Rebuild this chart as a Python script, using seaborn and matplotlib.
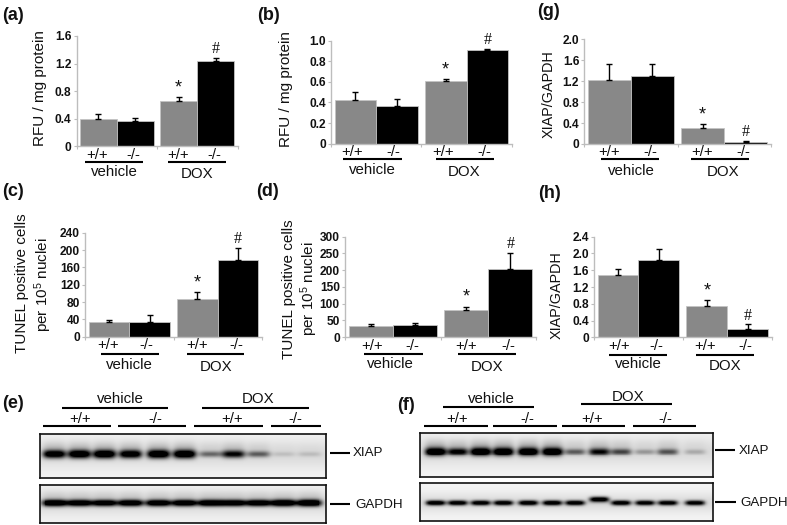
import numpy as np
import pandas as pd
import matplotlib
matplotlib.use("Agg")
import matplotlib.pyplot as plt
import seaborn as sns

sns.set_theme(style="white")
plt.rcParams["font.family"] = ["Liberation Sans", "DejaVu Sans"]
plt.rcParams["mathtext.fontset"] = "custom"
plt.rcParams["mathtext.rm"] = "Liberation Sans"
plt.rcParams["mathtext.default"] = "regular"

W, H = 787, 525
TREATMENTS = ["vehicle", "vehicle", "DOX", "DOX"]
GENOTYPES = ["+/+", "-/-", "+/+", "-/-"]

# ---- bar values (mean, upper error end) ----
a_vals = [0.40, 0.37, 0.65, 1.24]
a_tops = [0.46, 0.41, 0.71, 1.28]
b_vals = [0.42, 0.37, 0.61, 0.91]
b_tops = [0.50, 0.43, 0.63, 0.92]
c_vals = [34, 35, 88, 178]
c_tops = [39, 50, 103, 205]
d_vals = [32, 35, 82, 204]
d_tops = [38, 43, 91, 252]
g_vals = [1.23, 1.30, 0.30, 0.04]
g_tops = [1.52, 1.52, 0.38, 0.06]
h_vals = [1.48, 1.85, 0.75, 0.20]
h_tops = [1.63, 2.11, 0.89, 0.31]

a_ticks = ["0", "0.4", "0.8", "1.2", "1.6"]
b_ticks = ["0", "0.2", "0.4", "0.6", "0.8", "1.0"]
c_ticks = ["0", "40", "80", "120", "160", "200", "240"]
d_ticks = ["0", "50", "100", "150", "200", "250", "300"]
g_ticks = ["0", "0.4", "0.8", "1.2", "1.6", "2.0"]
h_ticks = ["0", "0.4", "0.8", "1.2", "1.6", "2.0", "2.4"]

# ---- blot band strengths per lane ----
e_xiap = [0.92, 0.98, 1.0, 0.92, 1.0, 1.0, 0.38, 0.75, 0.42, 0.09, 0.10]
e_gapdh = [0.9, 0.85, 0.82, 0.85, 0.85, 0.85, 0.88, 0.85, 0.85, 0.92, 0.95]
f_xiap = [1.0, 0.78, 1.0, 1.0, 1.0, 1.0, 0.42, 0.72, 0.5, 0.22, 0.45, 0.16]
f_gapdh = [0.9, 0.88, 0.88, 0.88, 0.9, 0.9, 0.88, 0.95, 0.88, 0.85, 0.85, 0.85]
f_gapdh_shift = [0, 0, 0, 0, 0, 0, 0, -3.5, 0, 0, 0, 0]

# ---- layout (pixels in the 787x525 canvas) ----
panels = [
    dict(vals=a_vals, tops=a_tops, ticks=a_ticks, box=(76.5, 237.5, 36, 146),
         xt=(97, 133, 178, 214), xty=155, l1=(85, 143, 162.3), l2=(168, 226, 162.3),
         veh=(114, 172.5), dox=(196.7, 174.3),
         ylab=[("RFU / mg protein", 40, 88)], ylab_fs=11.0),
    dict(vals=b_vals, tops=b_tops, ticks=b_ticks, box=(331, 511.7, 40.7, 143.7),
         xt=(352.3, 393.3, 443.3, 484.3), xty=151.7, l1=(342.7, 401.7, 159.3), l2=(435.7, 494, 159.3),
         veh=(372.7, 170), dox=(464.3, 172.3),
         ylab=[("RFU / mg protein", 285.7, 89)], ylab_fs=11.0),
    dict(vals=c_vals, tops=c_tops, ticks=c_ticks, box=(85, 262, 232.7, 336.7),
         xt=(108, 146.7, 196.7, 236.7), xty=345, l1=(101, 159, 354.3), l2=(186.7, 244.3, 354.3),
         veh=(129, 365), dox=(215.7, 367.3),
         ylab=[("TUNEL positive cells", 22, 282.7), (r"per 10$^{5}$ nuclei", 43, 285)], ylab_fs=11.0),
    dict(vals=d_vals, tops=d_tops, ticks=d_ticks, box=(345, 536, 236.7, 337),
         xt=(371.7, 412.7, 465.7, 508.3), xty=346, l1=(364.3, 422.7, 354.3), l2=(457.7, 516, 354.3),
         veh=(390.7, 364.3), dox=(487.3, 366.7),
         ylab=[("TUNEL positive cells", 289.3, 289), (r"per 10$^{5}$ nuclei", 309, 289)], ylab_fs=11.0),
    dict(vals=g_vals, tops=g_tops, ticks=g_ticks, box=(584.3, 770.7, 39.3, 144),
         xt=(609, 650.7, 701.7, 743.3), xty=151.7, l1=(600.7, 659, 159.3), l2=(691, 749, 159.3),
         veh=(631, 170.7), dox=(722.7, 171.7),
         ylab=[("XIAP/GAPDH", 549, 94.3)], ylab_fs=10.4),
    dict(vals=h_vals, tops=h_tops, ticks=h_ticks, box=(594, 771.7, 236.7, 337.3),
         xt=(619, 656.7, 705, 745), xty=345.7, l1=(609, 666.7, 354.7), l2=(696, 754.3, 354.7),
         veh=(638.3, 364.3), dox=(725, 365.7),
         ylab=[("XIAP/GAPDH", 556.7, 295)], ylab_fs=10.4),
]

panel_letters = [("(a)", 2, 15), ("(b)", 257, 15), ("(c)", 2, 192), ("(d)", 256, 191),
                 ("(e)", 2, 403), ("(f)", 397, 405), ("(g)", 537, 12), ("(h)", 538, 193)]

GREY = "#888888"
AXC = "#bdbdbd"
FS = 10.8

fig = plt.figure(figsize=(W / 100, H / 100), dpi=100, facecolor="white")


def px_axes(x0, x1, y0, y1, **kw):
    return fig.add_axes([x0 / W, 1 - y1 / H, (x1 - x0) / W, (y1 - y0) / H], **kw)


over = fig.add_axes([0, 0, 1, 1], zorder=10)
over.set_xlim(0, W)
over.set_ylim(H, 0)
over.axis("off")
over.patch.set_alpha(0)


def label(s, x, y, fs=FS, ha="center", **kw):
    over.text(x, y, s, fontsize=fs, ha=ha, va="center", color="#111111", **kw)


def rule(x0, x1, y, lw=1.5):
    over.plot([x0, x1], [y, y], color="black", lw=lw, solid_capstyle="butt")


for p in panels:
    x0, x1, t, b = p["box"]
    ax = px_axes(x0, x1, t, b)
    df = pd.DataFrame({"treatment": TREATMENTS, "genotype": GENOTYPES, "value": p["vals"]})
    sns.barplot(data=df, x="treatment", y="value", hue="genotype", order=["vehicle", "DOX"],
                hue_order=["+/+", "-/-"], palette=[GREY, "black"], width=0.92, gap=0,
                dodge=True, legend=False, errorbar=None, ax=ax, saturation=1,
                edgecolor="#c4c4c4", linewidth=0.6)
    ticks = [float(v) for v in p["ticks"]]
    ax.set_ylim(0, ticks[-1])
    ax.set_xlim(-0.5, 1.5)
    ax.set_yticks(ticks)
    ax.set_yticklabels(p["ticks"], fontsize=8.6, fontweight="bold", color="#111111")
    ax.set_xticks([-0.5, 0.5, 1.5])
    ax.set_xticklabels([])
    ax.set_xlabel("")
    ax.set_ylabel("")
    ax.tick_params(axis="both", length=2.2, width=0.8, color=AXC, direction="out", pad=1.5, left=True, bottom=True)
    for side in ("top", "right"):
        ax.spines[side].set_visible(False)
    for side in ("left", "bottom"):
        ax.spines[side].set_color(AXC)
        ax.spines[side].set_linewidth(1.0)
    ax.patch.set_alpha(0)

    # bars come back per hue: order them vehicle +/+, vehicle -/-, DOX +/+, DOX -/-
    hue0, hue1 = ax.containers[0], ax.containers[1]
    bars = [hue0[0], hue1[0], hue0[1], hue1[1]]
    centers = [r.get_x() + r.get_width() / 2 for r in bars]
    errs = np.array(p["tops"], float) - np.array(p["vals"], float)
    ax.errorbar(centers, p["vals"], yerr=[np.zeros(4), errs], fmt="none", ecolor="black",
                elinewidth=1.0, capsize=2.0, capthick=1.0, zorder=5)
    ax.annotate("*", (centers[2], p["tops"][2]), xytext=(0, 0.5), textcoords="offset points",
                ha="center", va="bottom", fontsize=13, color="#111111")
    ax.annotate("#", (centers[3], p["tops"][3]), xytext=(0, 0.5), textcoords="offset points",
                ha="center", va="bottom", fontsize=11.5, color="#111111", family="Liberation Serif")

    for s, x in zip(GENOTYPES, p["xt"]):
        label(s, x, p["xty"])
    rule(*p["l1"])
    rule(*p["l2"])
    label("vehicle", *p["veh"])
    label("DOX", *p["dox"])
    for s, x, y in p["ylab"]:
        label(s, x, y, fs=p["ylab_fs"], rotation=90)


def blot(box, lanes, strengths, band_y, halfw, sig, shifts=None, smear=0.0, join=0.0):
    x0, x1, t, b = box
    ax = px_axes(x0, x1, t, b)
    xx, yy = np.meshgrid(np.arange(x0, x1, 0.5), np.arange(t, b, 0.5))
    dark = np.zeros_like(xx) + 0.045
    shifts = shifts if shifts is not None else [0] * len(lanes)
    for lx, s, dy in zip(lanes, strengths, shifts):
        px = np.exp(-(np.abs(xx - lx) / halfw) ** 4)
        py = np.exp(-(((yy - band_y - dy) / (sig * (0.55 + 0.45 * s))) ** 2))
        dark += 1.15 * s * px * py
        up = np.exp(-(((yy - band_y + 6) / 6.5) ** 2))
        dark += smear * s * px * up
    if join:
        dark += join * np.exp(-(((yy - band_y) / (sig * 0.8)) ** 2)) * ((xx > lanes[0] - 10) & (xx < lanes[-1] + 10))
    dark += 0.10 * np.exp(-(((yy - band_y) / (sig * 3.5)) ** 2))
    sns.heatmap(1 - np.clip(dark, 0, 1), cmap="gray", vmin=0, vmax=1, cbar=False,
                xticklabels=False, yticklabels=False, ax=ax)
    for sp in ax.spines.values():
        sp.set_visible(True)
        sp.set_color("#111111")
        sp.set_linewidth(1.2)


e_lanes = [54, 79, 104, 130, 158, 184, 210, 233, 258, 283, 309]
f_lanes = [435.7, 457.7, 480.7, 503.3, 528.3, 552.3, 575, 599.3, 621, 645, 667.7, 695]

blot((40, 326, 434.3, 478.3), e_lanes, e_xiap, 454, 11.5, 4.2, smear=0.14)
blot((40, 326, 485, 522.7), e_lanes, e_gapdh, 503, 12.5, 3.6, smear=0.10, join=0.18)
blot((420, 712.7, 432.7, 477.3), f_lanes, f_xiap, 451.7, 10.5, 4.2, smear=0.16)
blot((420, 712.7, 483.3, 521), f_lanes, f_gapdh, 502.7, 9.8, 2.7, shifts=f_gapdh_shift, join=0.04)

# blot annotations
label("vehicle", 120, 399)
label("DOX", 257.7, 399)
rule(62, 168, 407.7)
rule(202, 309, 407.7)
for s, x in zip(GENOTYPES, (80, 155, 232, 295)):
    label(s, x, 419)
for x0, x1 in ((43, 111), (118, 186), (194, 263), (271, 321)):
    rule(x0, x1, 426)
rule(330, 350, 453)
rule(330, 350, 504)
label("XIAP", 353, 453, fs=9.6, ha="left")
label("GAPDH", 355, 505, fs=9.6, ha="left")

label("vehicle", 491.7, 399)
label("DOX", 627.7, 396.7)
rule(443, 534, 406.7)
rule(580.7, 671.7, 404)
for s, x in zip(GENOTYPES, (456.7, 527, 592, 665.7)):
    label(s, x, 419)
for x0, x1 in ((424, 488.3), (493, 556.7), (561.7, 625), (632.7, 696)):
    rule(x0, x1, 425.7)
rule(715, 735, 450)
rule(715, 736, 501.7)
label("XIAP", 739, 451, fs=9.6, ha="left")
label("GAPDH", 740, 503, fs=9.6, ha="left")

for s, x, y in panel_letters:
    label(s, x, y, fs=13, ha="left", fontweight="bold")

fig.savefig("out.png", dpi=100)
